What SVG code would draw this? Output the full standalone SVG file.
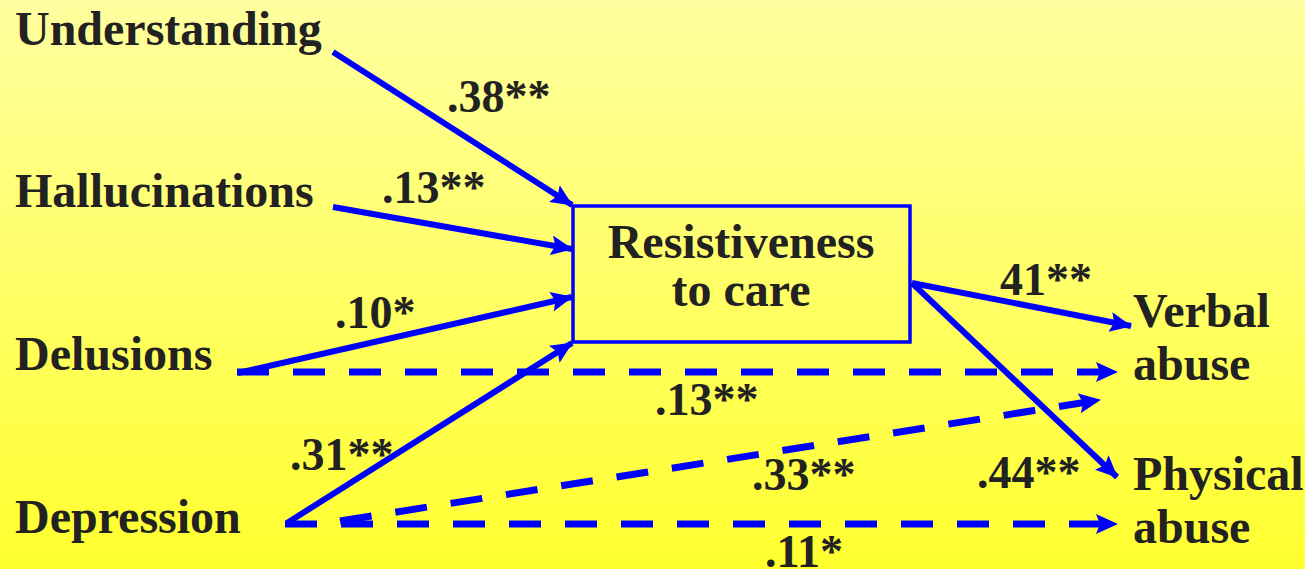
<svg xmlns="http://www.w3.org/2000/svg" width="1305" height="569" viewBox="0 0 1305 569">
  <defs>
    <linearGradient id="bg" x1="0" y1="0" x2="0" y2="1">
      <stop offset="0" stop-color="#FFFFA0"/>
      <stop offset="1" stop-color="#FFFF2E"/>
    </linearGradient>
    <marker id="ah" viewBox="0 0 22 20" markerWidth="22" markerHeight="20" refX="21" refY="10" orient="auto" markerUnits="userSpaceOnUse">
      <path d="M0,0 L22,10 L0,20 L4,10 z" fill="#0000FF"/>
    </marker>
    <style>
      .t { font-family: "Liberation Serif", "Times New Roman", serif; font-weight: bold; font-size: 48px; fill: #222; }
      .n { font-family: "Liberation Serif", "Times New Roman", serif; font-weight: bold; font-size: 46px; fill: #222; }
      .s { stroke: #0000FF; stroke-width: 6; fill: none; marker-end: url(#ah); }
      .d { stroke: #0000FF; stroke-width: 7; fill: none; stroke-dasharray: 32 24; marker-end: url(#ah); }
    </style>
  </defs>
  <rect x="0" y="0" width="1305" height="569" fill="url(#bg)"/>

  <g id="connectors">
    <line class="s" x1="333" y1="52" x2="572" y2="205"/>
    <line class="s" x1="333" y1="207" x2="572" y2="249"/>
    <line class="s" x1="238" y1="373" x2="572" y2="297"/>
    <line class="s" x1="287" y1="523" x2="572" y2="343"/>
    <line class="s" x1="912" y1="283" x2="1131" y2="326"/>
    <line class="s" x1="912" y1="283" x2="1117" y2="477"/>
    <line class="d" x1="237" y1="372" x2="1117" y2="372"/>
    <line class="d" x1="340" y1="521" x2="1100" y2="400"/>
    <line class="d" x1="285" y1="524" x2="1117" y2="524"/>
  </g>

  <g id="understanding"><text class="t" x="15" y="45">Understanding</text></g>
  <g id="hallucinations"><text class="t" x="15" y="207">Hallucinations</text></g>
  <g id="delusions"><text class="t" x="15" y="370">Delusions</text></g>
  <g id="depression"><text class="t" x="15" y="533">Depression</text></g>

  <g id="resistiveness">
    <rect x="573" y="206" width="337" height="136" fill="none" stroke="#0000FF" stroke-width="3.5"/>
    <text class="t" x="741" y="258" text-anchor="middle">Resistiveness</text>
    <text class="t" x="741" y="306" text-anchor="middle">to care</text>
  </g>

  <g id="verbal-abuse">
    <text class="t" x="1133" y="327">Verbal</text>
    <text class="t" x="1133" y="380">abuse</text>
  </g>
  <g id="physical-abuse">
    <text class="t" x="1133" y="490">Physical</text>
    <text class="t" x="1133" y="543">abuse</text>
  </g>

  <g id="labels">
    <text class="n" x="447" y="112">.38**</text>
    <text class="n" x="382" y="203">.13**</text>
    <text class="n" x="335" y="328">.10*</text>
    <text class="n" x="290" y="470">.31**</text>
    <text class="n" x="655" y="415">.13**</text>
    <text class="n" x="752" y="490">.33**</text>
    <text class="n" x="765" y="567">.11*</text>
    <text class="n" x="1000" y="295">41**</text>
    <text class="n" x="977" y="488">.44**</text>
  </g>
</svg>
